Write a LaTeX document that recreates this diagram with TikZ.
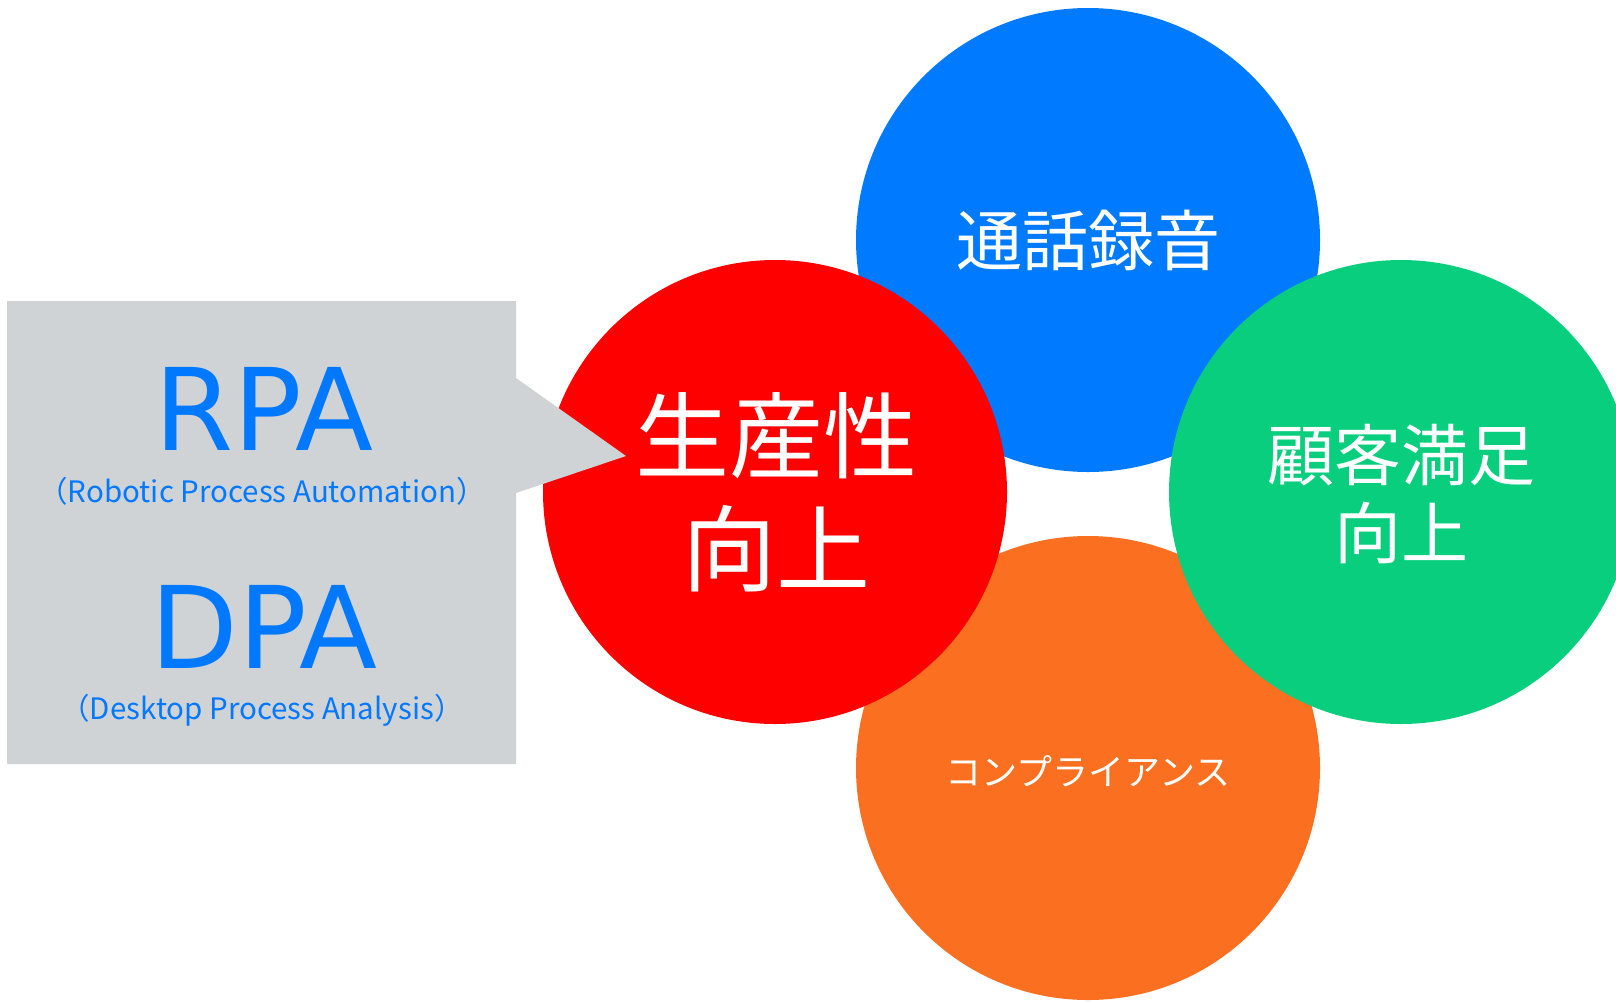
\documentclass[tikz,border=0pt]{standalone}
\usepackage{fontspec}
\newfontfamily\jp{Noto Sans CJK JP}
\newfontfamily\lat{DejaVu Sans}
\definecolor{cblue}{HTML}{007AFF}
\definecolor{cred}{HTML}{FF0000}
\definecolor{cgreen}{HTML}{08CE7D}
\definecolor{corange}{HTML}{FA6F20}
\definecolor{cgrey}{HTML}{D0D3D6}
\definecolor{ctext}{HTML}{0078FF}
\tikzset{
  bubble/.style={circle, minimum size=464pt, inner sep=0pt, draw=none},
  jtext/.style={text=white, inner sep=0pt, font=\jp},
  abbr/.style={text=ctext, inner sep=0pt},
}
\begin{document}
\begin{tikzpicture}[x=1pt,y=-1pt]
\useasboundingbox (0,0) rectangle (1616,1001);
\fill[white] (0,0) rectangle (1616,1001);
\node[bubble, fill=cblue] (blue) at (1088,240) {};
\node[bubble, fill=corange] (orange) at (1088,768) {};
\node[bubble, fill=cred] (red) at (775,492) {};
\node[bubble, fill=cgreen] (green) at (1401,492) {};
\fill[cgrey] (7,301) -- (516,301) -- (516,378) -- (626,456) -- (516,493) -- (516,764) -- (7,764) -- cycle;
\node[jtext, font=\jp\fontsize{94}{94}\selectfont] (t1) at (776,436) {生産性};
\node[jtext, font=\jp\fontsize{94}{94}\selectfont] (t2) at (776,549) {向上};
\node[jtext, font=\jp\fontsize{66}{66}\selectfont] (t3) at (1088,240) {通話録音};
\node[jtext, font=\jp\fontsize{67}{67}\selectfont] (t4) at (1401,455) {顧客満足};
\node[jtext, font=\jp\fontsize{67}{67}\selectfont] (t5) at (1401,533) {向上};
\node[jtext, font=\jp\fontsize{36}{36}\selectfont] (t6) at (1088,771) {コンプライアンス};
\node[abbr, font=\lat\fontsize{114}{114}\selectfont] (rpa) at (264,409) {RPA};
\node[abbr, font=\lat\fontsize{114}{114}\selectfont] (dpa) at (264,627) {DPA};
\node[abbr, font=\jp\fontsize{29.5}{29.5}\selectfont] (rpal) at (262,491) {（Robotic Process Automation）};
\node[abbr, font=\jp\fontsize{29.5}{29.5}\selectfont] (dpal) at (262,710) {（Desktop Process Analysis）};
\end{tikzpicture}
\end{document}
